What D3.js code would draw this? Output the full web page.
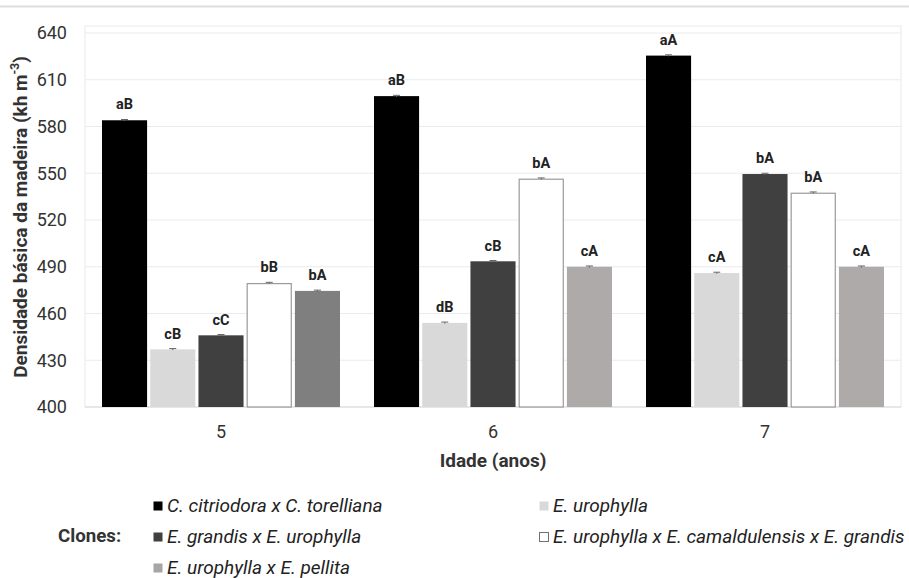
<!DOCTYPE html>
<html><head><meta charset="utf-8">
<script src="https://cdn.jsdelivr.net/npm/d3@7"></script>
<style>
html,body{margin:0;padding:0;background:#fff;}
svg{display:block;font-family:Roboto, "Noto Sans", sans-serif;}
</style></head>
<body><svg id="chart" width="909" height="578"></svg>
<script>
const ages = ["5", "6", "7"];
const clones = [
  "C. citriodora x C. torelliana",
  "E. urophylla",
  "E. grandis x E. urophylla",
  "E. urophylla x E. camaldulensis x E. grandis",
  "E. urophylla x E. pellita"
];
// values per clone, by age (5, 6, 7)
const citriodoraTorelliana = [584, 599.5, 625.5];
const urophylla = [437, 454, 486];
const grandisUrophylla = [446, 493.5, 549.5];
const urophyllaCamaldulensisGrandis = [479.5, 546.5, 537.5];
const urophyllaPellita = [474.5, 490, 490];
const seriesValues = [citriodoraTorelliana, urophylla, grandisUrophylla, urophyllaCamaldulensisGrandis, urophyllaPellita];
const errors = [
  [0.5, 0.5, 0.5],
  [0.5, 0.5, 0.5],
  [0.5, 0.5, 0.5],
  [0.5, 0.5, 0.5],
  [0.5, 0.5, 0.5]
];
const letters = [
  ["aB", "aB", "aA"],
  ["cB", "dB", "cA"],
  ["cC", "cB", "bA"],
  ["bB", "bA", "bA"],
  ["bA", "cA", "cA"]
];
const yTicks = [400, 430, 460, 490, 520, 550, 580, 610, 640];

const fills = ["#000000", "#d9d9d9", "#404040", "#ffffff", "#aeaaaa"];
const strokes = [null, null, null, "#9a9a9a", null];
const legendFills = ["#000000", "#d9d9d9", "#404040", "#ffffff", "#a6a6a6"];
const legendStrokes = [null, null, null, "#707070", null];
function barFill(ci, ai) {
  if (ci === 4 && ai === 0) return "#7f7f7f";
  return fills[ci];
}

const svg = d3.select("#chart");
const W = 909, H = 578;
const plot = {left: 85, right: 901, top: 26, bottom: 407};

// top separator line
svg.append("line").attr("x1", 0).attr("x2", W).attr("y1", 6.5).attr("y2", 6.5)
  .attr("stroke", "#dedede").attr("stroke-width", 2);

// faint plot-area frame
svg.append("rect").attr("x", plot.left).attr("y", plot.top)
  .attr("width", plot.right - plot.left).attr("height", plot.bottom - plot.top)
  .attr("fill", "none").attr("stroke", "#f1f1f1").attr("stroke-width", 1.5);

const y = d3.scaleLinear().domain([400, 640]).range([407, 33]);
const x0 = d3.scaleBand().domain(ages).range([plot.left, plot.right]).padding(0);
const bw0 = x0.bandwidth();
const x1 = d3.scaleBand().domain(d3.range(clones.length))
  .range([bw0 * 0.0625, bw0 * 0.9375]).paddingInner(0.065).paddingOuter(0);

// gridlines
svg.append("g").selectAll("line").data(yTicks).join("line")
  .attr("x1", plot.left).attr("x2", plot.right)
  .attr("y1", d => y(d)).attr("y2", d => y(d))
  .attr("stroke", d => d === 400 ? "#d9d9d9" : "#ebebeb").attr("stroke-width", 1.2);

// y axis labels
const yAxis = d3.axisLeft(y).tickValues(yTicks).tickSize(0).tickPadding(0);
const gy = svg.append("g").attr("transform", `translate(${67},0)`).call(yAxis);
gy.select(".domain").remove();
gy.selectAll("text").attr("font-size", 18).attr("fill", "#333").attr("font-family", "Roboto");

// x axis labels
const xAxis = d3.axisBottom(x0).tickSize(0).tickPadding(0);
const gx = svg.append("g").attr("transform", `translate(0,${425})`).call(xAxis);
gx.select(".domain").remove();
gx.selectAll("text").attr("font-size", 18).attr("fill", "#333").attr("font-family", "Roboto");

// bars
const data = [];
ages.forEach((a, ai) => clones.forEach((c, ci) => {
  data.push({age: a, ai, ci, v: seriesValues[ci][ai], e: errors[ci][ai], l: letters[ci][ai]});
}));

const gBars = svg.append("g");
gBars.selectAll("rect").data(data).join("rect")
  .attr("x", d => x0(d.age) + x1(d.ci) + (strokes[d.ci] ? 0.5 : 0))
  .attr("y", d => y(d.v) + (strokes[d.ci] ? 0.5 : 0))
  .attr("width", d => x1.bandwidth() - (strokes[d.ci] ? 1 : 0))
  .attr("height", d => y(400) - y(d.v) - (strokes[d.ci] ? 0.5 : 0))
  .attr("fill", d => barFill(d.ci, d.ai))
  .attr("stroke", d => strokes[d.ci] || "none")
  .attr("stroke-width", 1.2);

// error bars
const gErr = svg.append("g").attr("stroke", "#666").attr("stroke-width", 1);
data.forEach(d => {
  const cx = x0(d.age) + x1(d.ci) + x1.bandwidth() / 2;
  gErr.append("line").attr("x1", cx).attr("x2", cx).attr("y1", y(d.v - d.e)).attr("y2", y(d.v + d.e));
  gErr.append("line").attr("x1", cx - 3.5).attr("x2", cx + 3.5).attr("y1", y(d.v + d.e)).attr("y2", y(d.v + d.e));
});

// letters
svg.append("g").selectAll("text").data(data).join("text")
  .attr("x", d => x0(d.age) + x1(d.ci) + x1.bandwidth() / 2)
  .attr("y", d => y(d.v + d.e) - 10)
  .attr("text-anchor", "middle")
  .attr("font-size", 14.5).attr("font-weight", "bold").attr("fill", "#222")
  .text(d => d.l);

// y axis title
const yt = svg.append("text")
  .attr("transform", `translate(${27},${217}) rotate(-90)`)
  .attr("text-anchor", "middle")
  .attr("font-size", 19).attr("font-weight", "bold").attr("fill", "#333");
yt.append("tspan").text("Densidade básica da madeira (kh m");
yt.append("tspan").attr("font-size", 12).attr("dy", -8).text("-3");
yt.append("tspan").attr("dy", 8).text(")");

// x axis title
svg.append("text").attr("x", 493).attr("y", 467).attr("text-anchor", "middle")
  .attr("font-size", 19).attr("font-weight", "bold").attr("fill", "#333")
  .text("Idade (anos)");

// legend
svg.append("text").attr("x", 58).attr("y", 542)
  .attr("font-size", 18.7).attr("font-weight", "bold").attr("fill", "#333").text("Clones:");
const legendPos = [
  {x: 153, y: 512}, {x: 539, y: 512},
  {x: 153, y: 543}, {x: 539, y: 543},
  {x: 153, y: 574}
];
const gLeg = svg.append("g");
clones.forEach((c, i) => {
  const p = legendPos[i];
  gLeg.append("rect").attr("x", p.x + 0.5).attr("y", p.y - 10.5).attr("width", 9).attr("height", 9)
    .attr("fill", legendFills[i]).attr("stroke", legendStrokes[i] || "none").attr("stroke-width", 1);
  gLeg.append("text").attr("x", p.x + 14).attr("y", p.y)
    .attr("font-size", 19).attr("font-style", "italic").attr("fill", "#222").text(c);
});
</script>
</body></html>
